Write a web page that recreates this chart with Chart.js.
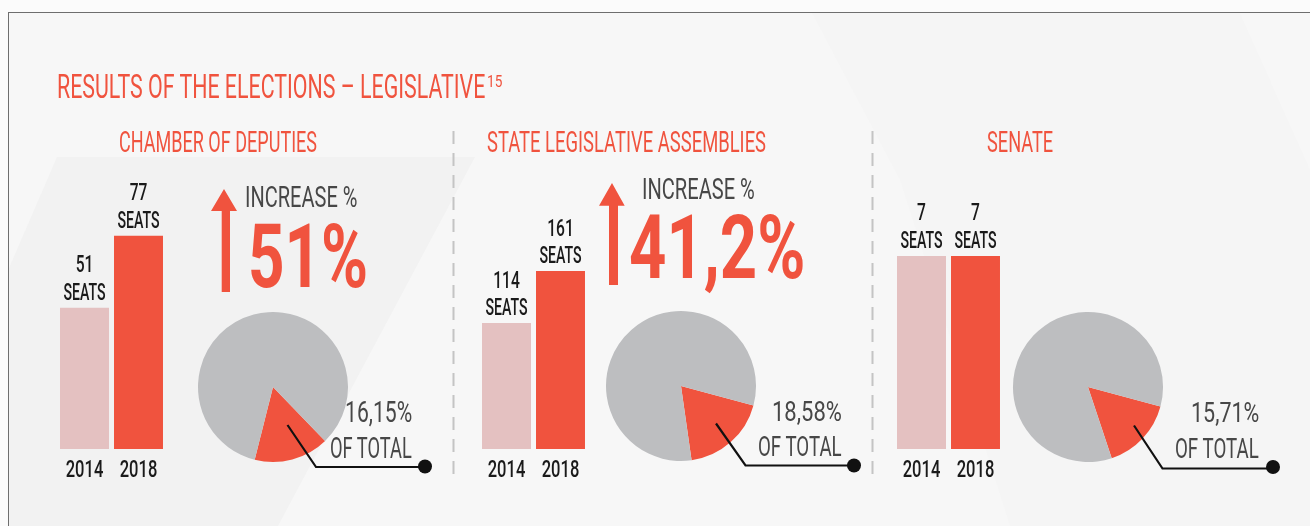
<!DOCTYPE html>
<html><head><meta charset="utf-8">
<script src="https://cdn.jsdelivr.net/npm/chart.js@4.4.1/dist/chart.umd.min.js"></script>
<style>
html,body{margin:0;padding:0;}
body{width:1310px;height:526px;overflow:hidden;background:#fbfbfb;position:relative;font-family:Roboto,"Noto Sans",sans-serif;}
#frame{position:absolute;left:8px;top:12px;width:1302px;height:514px;border-top:1px solid #6e6e6e;border-left:1px solid #6e6e6e;background:#f7f7f7;}
canvas{position:absolute;}
.t{position:absolute;white-space:nowrap;transform-origin:0 0;font-family:Roboto,sans-serif;}
svg{position:absolute;left:0;top:0;}
</style></head><body>
<div id="frame"></div>
<svg id="bg" width="1310" height="526">
  <polygon points="57,157 475,157 278,526 9,526 9,268" fill="#f2f2f2"/>
  <polygon points="812,13 1240,13 1310,170 1310,526 1010,526 900,180" fill="#f5f5f5"/>
  <line x1="453.5" y1="131" x2="453.5" y2="475" stroke="#c4c4c4" stroke-width="2" stroke-dasharray="13 9"/>
  <line x1="872.5" y1="131" x2="872.5" y2="475" stroke="#c4c4c4" stroke-width="2" stroke-dasharray="13 9"/>
</svg>
<canvas id="bar1" width="170" height="340" style="left:30px;top:150px;width:170px;height:340px"></canvas>
<canvas id="bar2" width="170" height="340" style="left:451.5px;top:150px;width:170px;height:340px"></canvas>
<canvas id="bar3" width="170" height="340" style="left:867px;top:150px;width:170px;height:340px"></canvas>
<canvas id="pie1" width="170" height="170" style="left:188px;top:302px;width:170px;height:170px"></canvas>
<canvas id="pie2" width="170" height="170" style="left:596px;top:301px;width:170px;height:170px"></canvas>
<canvas id="pie3" width="170" height="170" style="left:1003px;top:302px;width:170px;height:170px"></canvas>
<svg id="fg" width="1310" height="526">
  <polygon points="224,189 237,211 230,211 230,292 221.7,292 221.7,211 211,211" fill="#f0533e"/>
  <polygon points="612,183 624.7,205.7 618,205.7 618,285 609,285 609,205.7 599,205.7" fill="#f0533e"/>
  <polyline points="287.5,425 316,467 425,467" fill="none" stroke="#111" stroke-width="2.2"/>
  <circle cx="425" cy="466.5" r="7" fill="#111"/>
  <polyline points="716,423.5 745.5,465.5 854,465.5" fill="none" stroke="#111" stroke-width="2.2"/>
  <circle cx="854" cy="465.5" r="7" fill="#111"/>
  <polyline points="1134,425.5 1162.5,468.5 1273,468.5" fill="none" stroke="#111" stroke-width="2.2"/>
  <circle cx="1273" cy="467" r="7" fill="#111"/>
</svg>
<script>
// ---------- DATA ----------
const years = ['2014', '2018'];
const chamberSeats = [51, 77];
const assemblySeats = [114, 161];
const senateSeats = [7, 7];
const shareOfTotal = [16.15, 18.58, 15.71];
const increaseLabels = ['51%', '41,2%'];
const panelTitles = ['CHAMBER OF DEPUTIES', 'STATE LEGISLATIVE ASSEMBLIES', 'SENATE'];
const mainTitle = 'RESULTS OF THE ELECTIONS – LEGISLATIVE';
const footnote = '15';
const unitLabel = 'SEATS';
const increaseCaption = 'INCREASE %';
const totalCaption = 'OF TOTAL';

// ---------- STYLE ----------
const RED = '#f0533e', PINK = '#e4c1c1', GREY = '#bdbec0';
const DARK = '#1a1a1a', MID = '#474747';
const FONT = 'Roboto';

// ---------- HTML text helper (condensed via scaleX) ----------
const mctx = document.createElement('canvas').getContext('2d');
function place(text, o) {
  const capH = o.base - o.top;
  const F = capH / 0.711;
  const w = o.weight || 400;
  mctx.font = `${w} ${F}px ${FONT}`;
  const m = mctx.measureText(text);
  const inkW = m.actualBoundingBoxLeft + m.actualBoundingBoxRight;
  const sx = (o.right - o.left) / inkW;
  const fA = m.fontBoundingBoxAscent, fD = m.fontBoundingBoxDescent;
  const baseInBox = (F - (fA + fD)) / 2 + fA;
  const s = document.createElement('span');
  s.className = 't';
  s.textContent = text;
  s.style.font = `${w} ${F}px ${FONT}`;
  s.style.lineHeight = F + 'px';
  s.style.color = o.color;
  s.style.top = (o.base - baseInBox) + 'px';
  s.style.left = (o.left + m.actualBoundingBoxLeft * sx) + 'px';
  s.style.transform = `scaleX(${sx})`;
  document.body.appendChild(s);
}

place(mainTitle, {left: 58, right: 485, top: 75, base: 98.3, color: RED, weight: 400});
place(footnote, {left: 488, right: 502.5, top: 76, base: 87.3, color: RED, weight: 400});
place(panelTitles[0], {left: 120, right: 317, top: 131.5, base: 152.7, color: RED, weight: 400});
place(panelTitles[1], {left: 488, right: 766, top: 131.5, base: 152.7, color: RED, weight: 400});
place(panelTitles[2], {left: 988, right: 1053, top: 131.5, base: 152.7, color: RED, weight: 400});
place(increaseCaption, {left: 246.7, right: 357, top: 187, base: 207.5, color: MID, weight: 400});
place(increaseLabels[0], {left: 250.7, right: 365.7, top: 224, base: 286.7, color: RED, weight: 700});
place(increaseCaption, {left: 643, right: 754, top: 179, base: 200, color: MID, weight: 400});
place(increaseLabels[1], {left: 630.7, right: 803, top: 215, base: 278, color: RED, weight: 700});

const fmt = v => v.toFixed(2).replace('.', ',') + '%';
const pieText = [
  {pl: 346.7, ol: 330.7, r: 412, pt: 401.7, pb: 422.7, ot: 436.7, ob: 458.3},
  {pl: 774, ol: 758.6, r: 841.5, pt: 402, pb: 421.3, ot: 437, ob: 456.3},
  {pl: 1193, ol: 1176, r: 1259, pt: 403.7, pb: 423, ot: 439.7, ob: 459}
];
pieText.forEach((p, i) => {
  place(fmt(shareOfTotal[i]), {left: p.pl, right: p.r, top: p.pt, base: p.pb, color: MID, weight: 400});
  place(totalCaption, {left: p.ol, right: p.r, top: p.ot, base: p.ob, color: MID, weight: 400});
});

// ---------- canvas condensed text ----------
function ctext(ctx, text, x, y, capH, color, sx, weight) {
  const F = capH / 0.711;
  ctx.save();
  ctx.font = `${weight || 500} ${F}px ${FONT}`;
  ctx.fillStyle = color;
  ctx.textBaseline = 'alphabetic';
  ctx.textAlign = 'center';
  ctx.translate(x, y);
  ctx.scale(sx, 1);
  ctx.fillText(text, 0, 0);
  ctx.restore();
}

const barLabels = {
  id: 'barLabels',
  afterDatasetsDraw(chart) {
    const ctx = chart.ctx;
    const meta = chart.getDatasetMeta(0);
    const ds = chart.data.datasets[0].data;
    meta.data.forEach((bar, i) => {
      ctext(ctx, String(ds[i]), bar.x, bar.y - 35.5, 16.8, DARK, 0.66);
      ctext(ctx, unitLabel, bar.x, bar.y - 7.8, 16.8, DARK, 0.6);
    });
    const xs = chart.scales.x;
    chart.data.labels.forEach((lab, i) => {
      ctext(ctx, lab, xs.getPixelForValue(i), chart.chartArea.bottom + 27.5, 16.8, DARK, 0.7);
    });
  }
};

function barChart(id, seats, yMax) {
  new Chart(document.getElementById(id), {
    type: 'bar',
    data: {
      labels: years,
      datasets: [{data: seats, backgroundColor: [PINK, RED], borderWidth: 0,
                   barPercentage: 0.907, categoryPercentage: 1}]
    },
    options: {
      responsive: false, animation: false, events: [],
      layout: {padding: {left: 27.5, right: 34.5, top: 10, bottom: 41}},
      plugins: {legend: {display: false}, tooltip: {enabled: false}},
      scales: {
        x: {display: false},
        y: {display: false, min: 0, max: yMax}
      }
    },
    plugins: [barLabels]
  });
}
barChart('bar1', chamberSeats, 104.3);
barChart('bar2', assemblySeats, 261.5);
barChart('bar3', senateSeats, 10.48);

function pieChart(id, share, rot) {
  new Chart(document.getElementById(id), {
    type: 'pie',
    data: {
      labels: ['share', 'rest'],
      datasets: [{data: [share, 100 - share], backgroundColor: [RED, GREY],
                   borderWidth: 0, hoverOffset: 0, offset: 0}]
    },
    options: {
      responsive: false, animation: false, events: [],
      rotation: rot,
      layout: {padding: 10},
      plugins: {legend: {display: false}, tooltip: {enabled: false}}
    }
  });
}
pieChart('pie1', shareOfTotal[0], 136);
pieChart('pie2', shareOfTotal[1], 105);
pieChart('pie3', shareOfTotal[2], 105);
</script>
</body></html>
